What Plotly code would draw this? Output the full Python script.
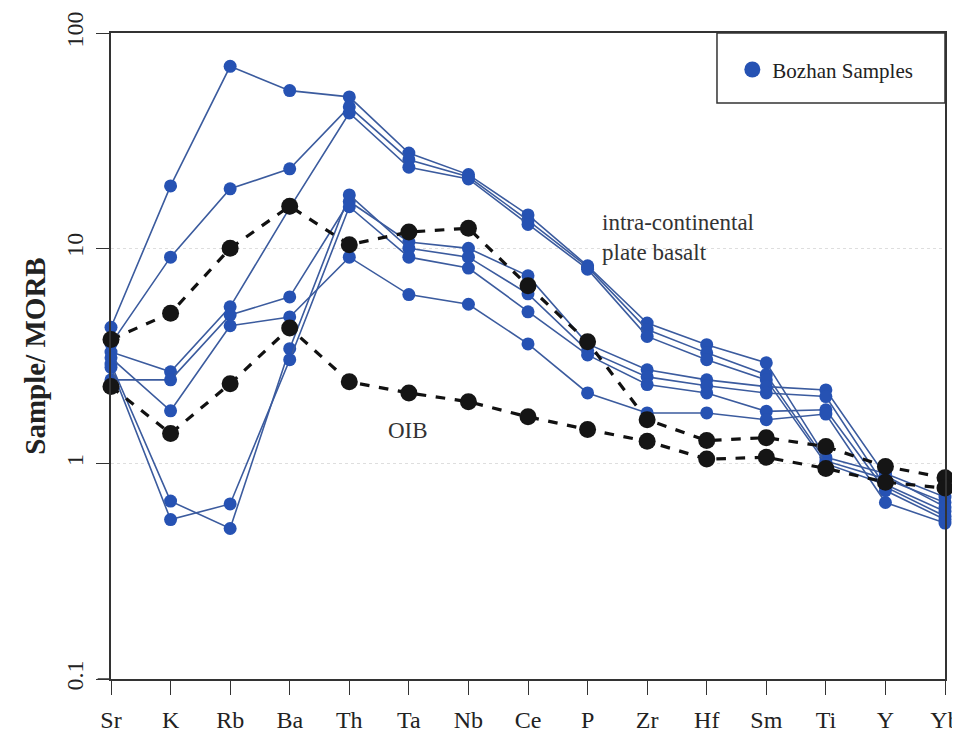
import plotly.graph_objects as go

elements = ["Sr", "K", "Rb", "Ba", "Th", "Ta", "Nb", "Ce", "P", "Zr", "Hf", "Sm", "Ti", "Y", "Yb"]

sample_1 = [4.3, 19.5, 70, 54, 50.5, 27.7, 22.0, 14.3, 8.3, 4.5, 3.57, 2.94, 1.07, 0.90, 0.70]
sample_2 = [3.6, 9.1, 18.9, 23.4, 45.4, 25.8, 21.5, 13.5, 8.2, 4.2, 3.27, 2.59, 1.03, 0.85, 0.66]
sample_3 = [3.3, 2.67, 5.35, 15.4, 42.5, 23.8, 21.0, 12.9, 8.0, 3.9, 3.04, 2.45, 1.00, 0.80, 0.60]
sample_4 = [2.45, 2.45, 4.9, 5.95, 16.5, 10.7, 10.0, 7.45, 3.6, 2.73, 2.45, 2.28, 2.20, 0.88, 0.63]
sample_5 = [2.9, 0.67, 0.50, 3.42, 17.7, 10.0, 9.1, 6.15, 3.35, 2.53, 2.30, 2.13, 2.05, 0.78, 0.57]
sample_6 = [2.8, 0.55, 0.65, 3.04, 15.6, 9.1, 8.1, 5.07, 3.2, 2.33, 2.13, 1.75, 1.78, 0.75, 0.55]
sample_7 = [3.1, 1.76, 4.37, 4.8, 9.1, 6.1, 5.5, 3.6, 2.13, 1.72, 1.72, 1.60, 1.70, 0.66, 0.53]
samples = [sample_1, sample_2, sample_3, sample_4, sample_5, sample_6, sample_7]

ipb = [3.77, 5.0, 10.0, 15.7, 10.4, 11.9, 12.4, 6.7, 3.68, 1.60, 1.28, 1.32, 1.20, 0.97, 0.86]
oib = [2.28, 1.38, 2.35, 4.27, 2.40, 2.13, 1.94, 1.65, 1.44, 1.27, 1.05, 1.07, 0.95, 0.82, 0.77]

y_tickvals = [0.1, 1, 10, 100]
y_ticktext = ["0.1", "1", "10", "100"]

xs = list(range(len(elements)))
FONT = "Liberation Serif"
BLUE_M = "#2652b3"
BLUE_L = "#3b5b9e"

fig = go.Figure()
for s in samples:
    fig.add_trace(go.Scatter(
        x=xs, y=s, mode="lines+markers", showlegend=False,
        line=dict(color=BLUE_L, width=1.6),
        marker=dict(color=BLUE_M, size=13, line=dict(width=0)),
        cliponaxis=False,
    ))
for ref in [ipb, oib]:
    fig.add_trace(go.Scatter(
        x=xs, y=ref, mode="lines+markers", showlegend=False,
        line=dict(color="#111111", width=3.2, dash="dash"),
        marker=dict(color="#151515", size=17, line=dict(width=0)),
        cliponaxis=False,
    ))
fig.add_trace(go.Scatter(
    x=[None], y=[None], mode="markers", name="Bozhan Samples",
    marker=dict(color=BLUE_M, size=18),
))

fig.update_layout(
    width=952, height=739,
    margin=dict(l=103, r=15, t=25, b=68),
    paper_bgcolor="white", plot_bgcolor="white",
    font=dict(family=FONT, color="#222222"),
    showlegend=True,
    legend=dict(
        x=0.745, y=0.943, xanchor="left", yanchor="middle",
        bgcolor="rgba(0,0,0,0)", borderwidth=0,
        font=dict(family=FONT, size=21, color="#222222"),
        itemwidth=30,
    ),
    xaxis=dict(
        range=[0, 14], tickmode="array", tickvals=xs, ticktext=elements,
        showgrid=False, zeroline=False, automargin=False,
        showline=True, linecolor="#333333", linewidth=1.5, mirror=True,
        ticks="outside", ticklen=14, tickcolor="#333333", tickwidth=1,
        tickfont=dict(family=FONT, size=24, color="#222222"),
        ticklabelstandoff=4,
    ),
    yaxis=dict(
        type="log", range=[-1, 2], tickmode="array", automargin=False,
        tickvals=y_tickvals, ticktext=y_ticktext, tickangle=-90,
        showgrid=True, gridcolor="#dedede", griddash="dot", gridwidth=1,
        zeroline=False,
        showline=True, linecolor="#333333", linewidth=1.5, mirror=True,
        ticks="outside", ticklen=13, tickcolor="#333333", tickwidth=1,
        tickfont=dict(family=FONT, size=24, color="#222222"),
        ticklabelstandoff=4,
        title=dict(text="<b>Sample/ MORB</b>", font=dict(family=FONT, size=29, color="#222222"), standoff=8),
    ),
    shapes=[
        dict(type="rect", xref="paper", yref="paper", x0=0.7266, x1=1.0, y0=0.8916, y1=1.0,
             line=dict(color="#333333", width=1.5), fillcolor="rgba(0,0,0,0)"),
        dict(type="line", xref="paper", yref="paper", x0=-0.016, x1=0, y0=0, y1=0,
             line=dict(color="#333333", width=1.5)),
    ],
    annotations=[
        dict(text="intra-continental<br>plate basalt", xref="paper", yref="paper",
             x=0.586, y=0.684, xanchor="left", yanchor="middle", align="left",
             showarrow=False, font=dict(family=FONT, size=23, color="#333333")),
        dict(text="OIB", xref="paper", yref="paper", x=0.356, y=0.385,
             xanchor="center", yanchor="middle", showarrow=False,
             font=dict(family=FONT, size=23, color="#333333")),
    ],
)

fig.write_html("out.html")
